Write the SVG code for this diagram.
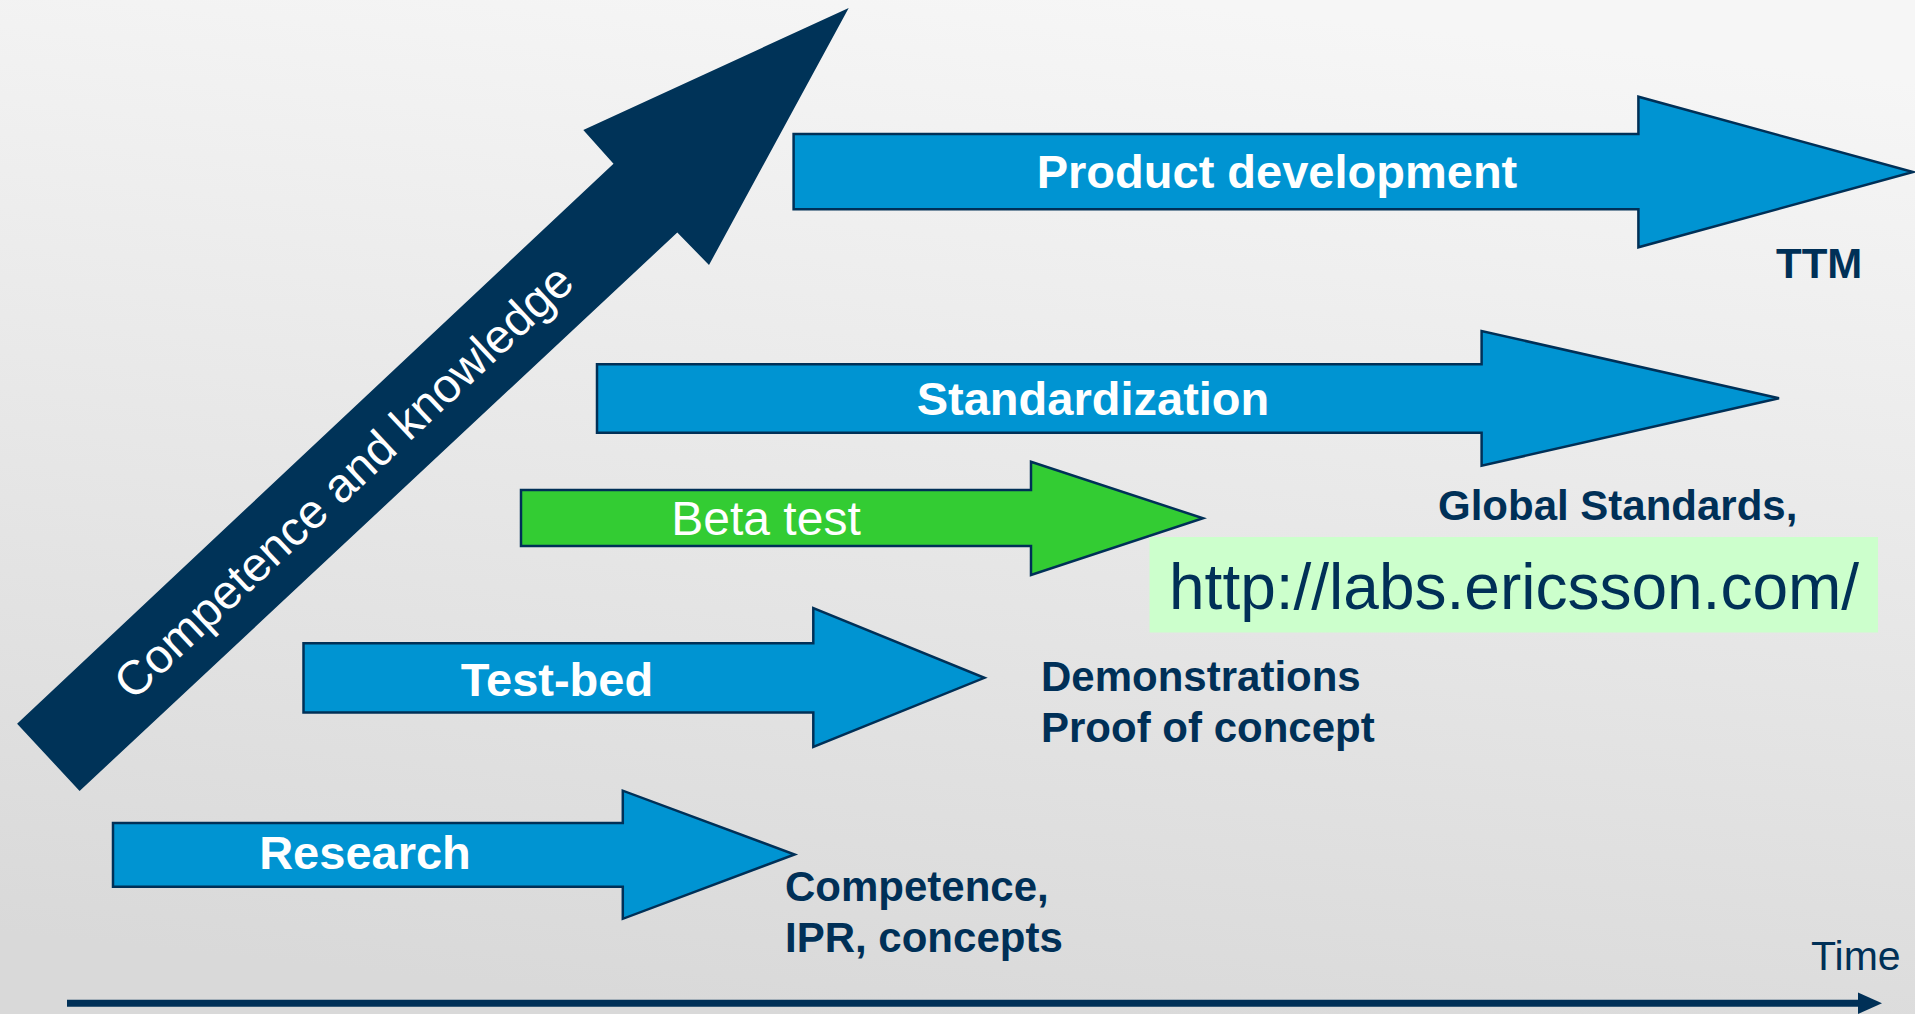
<svg xmlns="http://www.w3.org/2000/svg" width="1915" height="1014" viewBox="0 0 1915 1014">
  <defs>
    <linearGradient id="bg" x1="0.6" y1="0" x2="0.4" y2="1">
      <stop offset="0" stop-color="#f6f6f6"/>
      <stop offset="1" stop-color="#d9d9d9"/>
    </linearGradient>
    <style>
      .blue { fill: #0094d2; stroke: #003057; stroke-width: 2.5; stroke-linejoin: miter; }
      .green { fill: #33cc33; stroke: #003057; stroke-width: 2.5; }
      .lbl { font-family: "Liberation Sans", Arial, sans-serif; font-weight: bold; font-size: 47px; fill: #ffffff; text-anchor: middle; }
      .note { font-family: "Liberation Sans", Arial, sans-serif; font-weight: bold; font-size: 42px; fill: #003057; }
      .reg { font-family: "Liberation Sans", Arial, sans-serif; fill: #003057; }
    </style>
  </defs>
  <rect x="0" y="0" width="1915" height="1014" fill="url(#bg)"/>

  <g id="competence-arrow">
    <polygon points="848.7,8 709,265 677.3,232.5 79.6,791 17.1,723.7 613.5,163.7 583.3,130" fill="#003358"/>
    <text transform="translate(343,481) rotate(-43.2)" x="0" y="17" font-family="Liberation Sans, Arial, sans-serif" font-size="48" fill="#ffffff" text-anchor="middle">Competence and knowledge</text>
  </g>

  <g id="product-development">
    <polygon class="blue" points="793.6,134 1638.4,134 1638.4,96.7 1913,172 1638.4,247.3 1638.4,209.3 793.6,209.3"/>
    <text class="lbl" x="1277" y="188">Product development</text>
  </g>
  <g id="ttm">
    <text class="note" x="1776" y="278">TTM</text>
  </g>

  <g id="standardization">
    <polygon class="blue" points="597,364.3 1481.6,364.3 1481.6,331 1779,398.3 1481.6,465.7 1481.6,432.7 597,432.7"/>
    <text class="lbl" x="1093" y="415">Standardization</text>
  </g>
  <g id="global-standards">
    <text class="note" x="1438" y="520">Global Standards,</text>
  </g>

  <g id="beta-test">
    <polygon class="green" points="521,490 1031,490 1031,461.7 1203,518.3 1031,575 1031,546 521,546"/>
    <text x="766" y="535" font-family="Liberation Sans, Arial, sans-serif" font-size="48" fill="#ffffff" text-anchor="middle">Beta test</text>
  </g>

  <g id="url">
    <rect x="1149.5" y="537" width="728.5" height="95.5" fill="#ccffcc"/>
    <text class="reg" x="1169" y="609" font-size="64">http://labs.ericsson.com/</text>
  </g>

  <g id="test-bed">
    <polygon class="blue" points="303.5,643.3 813.3,643.3 813.3,608 984.4,677.8 813.3,747 813.3,712.5 303.5,712.5"/>
    <text class="lbl" x="557" y="696">Test-bed</text>
  </g>
  <g id="demonstrations">
    <text class="note" x="1041" y="691">Demonstrations</text>
    <text class="note" x="1041" y="742">Proof of concept</text>
  </g>

  <g id="research">
    <polygon class="blue" points="113,823 622.8,823 622.8,790.7 794.6,854.5 622.8,918.8 622.8,886.8 113,886.8"/>
    <text class="lbl" x="365" y="869">Research</text>
  </g>
  <g id="competence-ipr">
    <text class="note" x="785" y="901">Competence,</text>
    <text class="note" x="785" y="952">IPR, concepts</text>
  </g>

  <g id="time-label">
    <text class="reg" x="1811" y="970" font-size="41">Time</text>
  </g>

  <g id="connectors">
    <line x1="67" y1="1003.3" x2="1860" y2="1003.3" stroke="#003057" stroke-width="7"/>
    <polygon points="1858,992.5 1882,1003.3 1858,1014" fill="#003057"/>
  </g>
</svg>
